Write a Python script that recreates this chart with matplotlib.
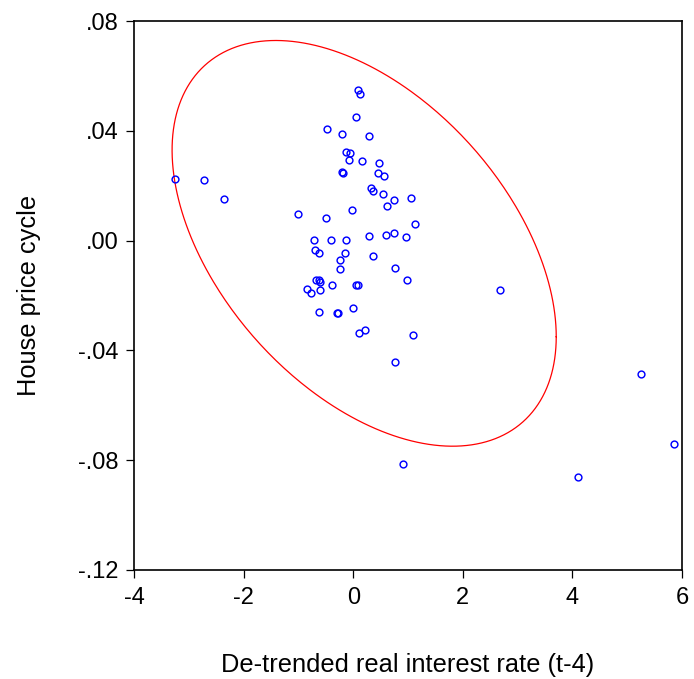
import numpy as np
import matplotlib
matplotlib.use("Agg")
import matplotlib.pyplot as plt

plt.rcParams['font.family'] = ['Liberation Sans', 'DejaVu Sans']

# Data
rate = [-3.25, -2.72, -2.36, -1.01, -0.475, -0.49, -0.21, 0.05, 0.09, 0.13,
        0.28, -0.13, -0.06, -0.07, 0.16, 0.475, -0.20, -0.18, 0.445, 0.57,
        0.32, 0.37, 0.55, 0.75, 0.616, -0.02, 1.06, 1.12, -0.71, -0.41,
        -0.14, 0.29, 0.60, 0.74, 0.96, -0.69, -0.62, -0.15, -0.24, 0.37,
        -0.24, 0.77, 0.98, -0.68, -0.63, -0.60, -0.38, 0.06, 0.085, -0.85,
        -0.77, -0.60, -0.62, -0.29, -0.27, 0.00, 0.21, 0.10, 1.09, 0.755,
        2.68, 5.25, 5.85, 0.90, 4.11]
house = [0.0223, 0.0222, 0.0153, 0.0097, 0.0408, 0.0083, 0.0390, 0.0449, 0.0549, 0.0535,
         0.0381, 0.0322, 0.0320, 0.0292, 0.0289, 0.0284, 0.0251, 0.0245, 0.0245, 0.0236,
         0.0193, 0.0182, 0.0170, 0.0147, 0.0125, 0.0112, 0.0156, 0.0062, 0.0004, 0.0001,
         0.0002, 0.0016, 0.0022, 0.0028, 0.0013, -0.0033, -0.0046, -0.0044, -0.0069, -0.0056,
         -0.0105, -0.0100, -0.0142, -0.0142, -0.0145, -0.0151, -0.0163, -0.0163, -0.0160, -0.0178,
         -0.0192, -0.0179, -0.0259, -0.0265, -0.0263, -0.0246, -0.0324, -0.0336, -0.0343, -0.0443,
         -0.0179, -0.0487, -0.0740, -0.0815, -0.0861]

# Confidence ellipse parameters
ell_center = (0.2, -0.001)
ell_half_x = 3.505
ell_half_y = 0.0739
ell_corr = -0.46

xticks = [-4, -2, 0, 2, 4, 6]
xticklabels = ['-4', '-2', '0', '2', '4', '6']
yticks = [-0.12, -0.08, -0.04, 0.00, 0.04, 0.08]
yticklabels = ['-.12', '-.08', '-.04', '.00', '.04', '.08']

fig = plt.figure(figsize=(6.94, 6.79), dpi=100)
ax = fig.add_axes([134/694, 1-570/679, (682-134)/694, (570-21)/679])

t = np.linspace(0, 2*np.pi, 400)
delta = np.arcsin(ell_corr)
ex = ell_center[0] + ell_half_x*np.cos(t)
ey = ell_center[1] + ell_half_y*np.sin(t + delta)
ax.plot(ex, ey, color='red', lw=0.9)

ax.plot(rate, house, linestyle='none', marker='o', markersize=4.9,
        markerfacecolor='none', markeredgecolor='blue', markeredgewidth=1.05)

ax.set_xlim(-4, 6)
ax.set_ylim(-0.12, 0.08)
ax.set_xticks(xticks)
ax.set_xticklabels(xticklabels)
ax.set_yticks(yticks)
ax.set_yticklabels(yticklabels)
ax.tick_params(direction='out', length=6, width=0.9, labelsize=17, pad=5,
               top=False, right=False)
ax.tick_params(axis='x', pad=6)
for s in ax.spines.values():
    s.set_linewidth(1.2)

ax.set_xlabel('De-trended real interest rate (t-4)', fontsize=18.3, labelpad=32)
ax.set_ylabel('House price cycle', fontsize=18.3, labelpad=27)

fig.savefig('out.png', dpi=100)
